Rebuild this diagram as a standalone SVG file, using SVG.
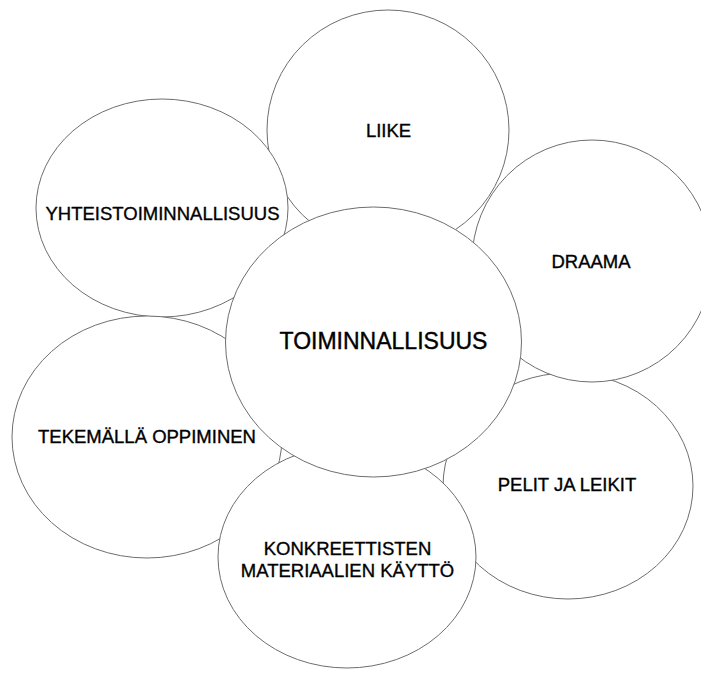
<svg xmlns="http://www.w3.org/2000/svg" width="701" height="673" viewBox="0 0 701 673">
<style>
.n{fill:#fff;stroke:#6e6e6e;stroke-width:1}
.t{font-family:"Liberation Sans",Arial,sans-serif;font-size:18.5px;fill:#000;stroke:#000;stroke-width:0.35;text-anchor:middle}
.c{font-size:23px;stroke-width:0.4}
</style>
<rect width="701" height="673" fill="#fff"/>
<g id="connectors"/>
<g id="liike"><ellipse class="n" cx="388" cy="130" rx="121" ry="120"/><text class="t" x="388.5" y="137">LIIKE</text></g>
<g id="yhteistoiminnallisuus"><ellipse class="n" cx="162" cy="208" rx="126" ry="109"/><text class="t" x="162.5" y="220">YHTEISTOIMINNALLISUUS</text></g>
<g id="tekemalla"><ellipse class="n" cx="147" cy="437" rx="135" ry="121"/><text class="t" x="147" y="443">TEKEMÄLLÄ OPPIMINEN</text></g>
<g id="pelit"><ellipse class="n" cx="568" cy="486" rx="125" ry="113"/><text class="t" x="567" y="491">PELIT JA LEIKIT</text></g>
<g id="draama"><ellipse class="n" cx="592" cy="261" rx="120" ry="121"/><text class="t" x="591" y="268">DRAAMA</text></g>
<g id="konkreettisten"><ellipse class="n" cx="347" cy="557" rx="129" ry="111"/><text class="t" x="347.5" y="555">KONKREETTISTEN</text><text class="t" x="347.5" y="577">MATERIAALIEN KÄYTTÖ</text></g>
<g id="toiminnallisuus"><ellipse class="n" cx="373.5" cy="342" rx="148" ry="135"/><text class="t c" x="383.5" y="349">TOIMINNALLISUUS</text></g>
</svg>
